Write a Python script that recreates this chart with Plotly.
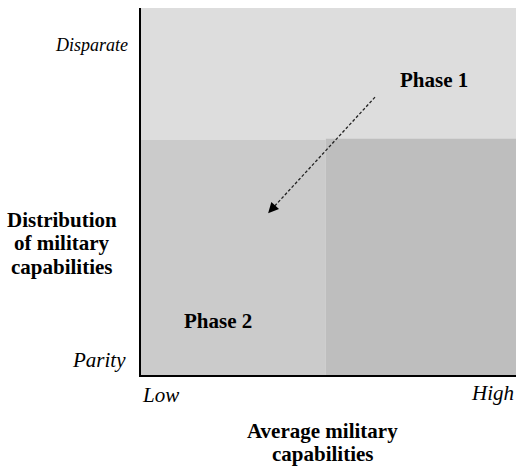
import plotly.graph_objects as go

# Regions (x0, x1, y0, y1) in axis units and their fills
region_names = ["Phase 1 zone", "Phase 2 zone", "High zone"]
region_x0 = [0.0, 0.0, 0.493]
region_x1 = [1.0, 0.493, 1.0]
region_y0 = [0.64, 0.0, 0.0]
region_y1 = [1.0, 0.64, 0.644]
region_colors = ["#dddddd", "#cbcbcb", "#bebebe"]

# Arrow from Phase 1 towards Phase 2
arrow_start = (0.624, 0.757)
arrow_end = (0.339, 0.441)

# Phase labels
phase_labels = ["Phase 1", "Phase 2"]
phase_x = [0.781, 0.204]
phase_y = [0.804, 0.147]

y_tick_labels = ["Parity", "Disparate"]
x_tick_labels = ["Low", "High"]
x_title_lines = ["Average military", "capabilities"]
y_title_lines = ["Distribution", "of military", "capabilities"]

FONT = "Liberation Serif, Times New Roman, serif"

fig = go.Figure()
fig.add_trace(go.Scatter(x=[0, 1], y=[0, 1], mode="markers",
                         marker=dict(opacity=0), hoverinfo="skip", showlegend=False))

for x0, x1, y0, y1, c in zip(region_x0, region_x1, region_y0, region_y1, region_colors):
    fig.add_shape(type="rect", xref="x", yref="y", x0=x0, x1=x1, y0=y0, y1=y1,
                  fillcolor=c, line=dict(width=0), layer="below")

# dashed shaft
ux = arrow_end[0] - arrow_start[0]
uy = arrow_end[1] - arrow_start[1]
fig.add_shape(type="line", xref="x", yref="y",
              x0=arrow_start[0], y0=arrow_start[1],
              x1=arrow_start[0] + ux * 0.95, y1=arrow_start[1] + uy * 0.95,
              line=dict(color="#222222", width=1.3, dash="3px,2px"))
# arrow head
fig.add_annotation(x=arrow_end[0], y=arrow_end[1], ax=arrow_start[0] + ux * 0.93,
                   ay=arrow_start[1] + uy * 0.93, xref="x", yref="y", axref="x", ayref="y",
                   text="", showarrow=True, arrowhead=2, arrowsize=1.6, arrowwidth=1.3,
                   arrowcolor="#000000", standoff=0)

for t, x, y in zip(phase_labels, phase_x, phase_y):
    fig.add_annotation(x=x, y=y, xref="x", yref="y", text="<b>" + t + "</b>",
                       showarrow=False, font=dict(family=FONT, size=21, color="#000"))

# y labels
fig.add_annotation(x=-0.029, y=0.899, xref="paper", yref="paper", text="<i>" + y_tick_labels[1] + "</i>",
                   showarrow=False, xanchor="right", yanchor="middle",
                   font=dict(family=FONT, size=18, color="#000"))
fig.add_annotation(x=-0.035, y=0.04, xref="paper", yref="paper", text="<i>" + y_tick_labels[0] + "</i>",
                   showarrow=False, xanchor="right", yanchor="middle",
                   font=dict(family=FONT, size=21, color="#000"))
# x labels
fig.add_annotation(x=-0.003, y=-0.054, xref="paper", yref="paper", text="<i>" + x_tick_labels[0] + "</i>",
                   showarrow=False, xanchor="left", yanchor="middle",
                   font=dict(family=FONT, size=21, color="#000"))
fig.add_annotation(x=1.0, y=-0.048, xref="paper", yref="paper", text="<i>" + x_tick_labels[1] + "</i>",
                   showarrow=False, xanchor="right", yanchor="middle",
                   font=dict(family=FONT, size=21, color="#000"))

# axis titles, one annotation per line for tighter line spacing
for line, y in zip(y_title_lines, [0.422, 0.3597, 0.2944]):
    fig.add_annotation(x=-0.211, y=y, xref="paper", yref="paper", text="<b>" + line + "</b>",
                       showarrow=False, xanchor="center", yanchor="middle",
                       font=dict(family=FONT, size=21, color="#000"))
for line, y in zip(x_title_lines, [-0.1526, -0.2153]):
    fig.add_annotation(x=0.485, y=y, xref="paper", yref="paper", text="<b>" + line + "</b>",
                       showarrow=False, xanchor="center", yanchor="middle",
                       font=dict(family=FONT, size=21, color="#000"))

fig.update_xaxes(range=[0, 1], showgrid=False, zeroline=False, showticklabels=False,
                 ticks="", showline=True, linecolor="#000", linewidth=1.5)
fig.update_yaxes(range=[0, 1], showgrid=False, zeroline=False, showticklabels=False,
                 ticks="", showline=True, linecolor="#000", linewidth=1.5)
fig.update_layout(width=516, height=466, margin=dict(l=141, r=0, t=8, b=91),
                  plot_bgcolor="white", paper_bgcolor="white", showlegend=False)

fig.write_html("out.html", config={"displayModeBar": False},
               post_script="document.body.style.margin='0px';document.body.style.overflow='hidden';")
